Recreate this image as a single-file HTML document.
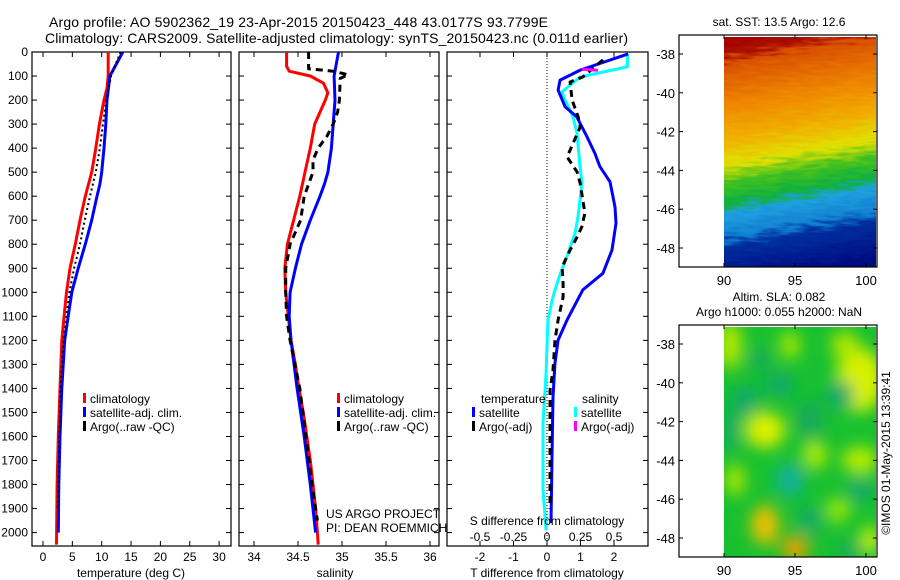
<!DOCTYPE html>
<html><head><meta charset="utf-8"><style>
html,body{margin:0;padding:0;background:#fff;}
svg{display:block;font-family:"Liberation Sans",sans-serif;}
</style></head><body>
<svg id="fig" width="900" height="580" viewBox="0 0 900 580" xmlns="http://www.w3.org/2000/svg">
<defs>
<linearGradient id="sstGrad" x1="0" y1="0" x2="0.12" y2="1">
<stop offset="0" stop-color="#a00000"/><stop offset="0.15" stop-color="#a80800"/>
<stop offset="0.19" stop-color="#d85000"/><stop offset="0.35" stop-color="#f08800"/>
<stop offset="0.47" stop-color="#f0b000"/><stop offset="0.56" stop-color="#e0e000"/>
<stop offset="0.63" stop-color="#40c020"/><stop offset="0.70" stop-color="#10b040"/>
<stop offset="0.74" stop-color="#20a0e0"/><stop offset="0.82" stop-color="#1080d0"/>
<stop offset="0.86" stop-color="#0030a0"/><stop offset="1" stop-color="#000a80"/>
</linearGradient>
<filter id="rough" x="-10%" y="-10%" width="120%" height="120%"><feTurbulence type="fractalNoise" baseFrequency="0.05 0.3" numOctaves="2" seed="3"/><feDisplacementMap in="SourceGraphic" scale="18"/></filter>
<filter id="blur"><feGaussianBlur stdDeviation="8"/></filter>
<clipPath id="m1c"><rect x="724" y="37" width="152" height="230"/></clipPath>
<clipPath id="m2c"><rect x="724" y="327" width="152" height="230"/></clipPath>
</defs>
<g id="root"></g>
</svg>
<script>
// ---------- data ----------
const depthTicks = [0,100,200,300,400,500,600,700,800,900,1000,1100,1200,1300,1400,1500,1600,1700,1800,1900,2000];
const tempTicks = [0,5,10,15,20,25,30];
const salTicks = [34,34.5,35,35.5,36];
const salTickLabels = ["34","34.5","35","35.5","36"];
const tdiffTicks = [-2,-1,0,1,2];
const sdiffTicks = [-0.5,-0.25,0,0.25,0.5];
const sdiffTickLabels = ["-0.5","-0.25","0","0.25","0.5"];
const latTicks = [-38,-40,-42,-44,-46,-48];
const lonTicks = [90,95,100];

const tClimDepth = [0,100,150,200,300,400,500,600,700,800,900,1000,1100,1200,1400,1600,1800,2050];
const tClim      = [11.1,11.1,10.9,10.4,9.6,9.0,8.3,7.2,6.3,5.5,4.6,4.0,3.6,3.2,2.9,2.6,2.4,2.3];
const tSatDepth  = [0,100,200,300,400,500,550,600,700,800,900,1000,1100,1200,1400,1600,1800,2000];
const tSat       = [13.6,11.4,10.9,10.7,10.4,10.0,9.7,9.2,8.3,7.2,6.0,4.9,4.3,3.7,3.2,2.9,2.7,2.6];
const tArgoDepth = [0,100,200,300,400,500,600,700,800,900,1000,1200,1400,1600,1800,1900];
const tArgo      = [13.2,11.6,10.8,10.2,9.7,9.0,8.0,7.1,6.3,5.3,4.5,3.5,3.0,2.8,2.6,2.5];

const sClimDepth = [0,60,80,100,130,170,200,250,300,400,500,600,700,800,900,1000,1100,1200,1300,1400,1500,1600,1700,1800,1900,2000,2050];
const sClim      = [34.37,34.37,34.40,34.64,34.79,34.84,34.81,34.75,34.69,34.64,34.58,34.52,34.45,34.38,34.35,34.36,34.39,34.42,34.47,34.51,34.56,34.60,34.64,34.67,34.70,34.72,34.73];
const sSatDepth  = [0,100,200,300,400,500,550,600,700,800,900,1000,1100,1200,1400,1600,1800,2000];
const sSat       = [34.96,34.91,34.92,34.90,34.88,34.84,34.80,34.75,34.64,34.54,34.47,34.41,34.40,34.42,34.49,34.57,34.64,34.70];
const sArgoDepth = [0,70,80,95,110,200,250,300,350,400,450,500,550,600,700,800,900,1000,1100,1200,1400,1600,1800,1950];
const sArgo      = [34.62,34.62,34.90,35.07,34.98,34.97,34.95,34.90,34.83,34.73,34.67,34.67,34.62,34.57,34.53,34.41,34.36,34.36,34.37,34.41,34.52,34.59,34.66,34.72];

const dTSatDepth = [8,75,117,158,228,270,352,422,477,540,645,713,824,921,990,1115,1199,1294,1436,1685,1960];
const dTSat      = [2.42,1.0,0.39,0.33,0.54,0.89,1.19,1.43,1.58,1.88,2.03,2.06,1.94,1.67,1.07,0.6,0.33,0.24,0.18,0.15,0.12];
const dSSatDepth = [8,62,104,166,200,270,338,477,547,686,755,838,950,1019,1115,1336,1544,1823,1990];
const dSSat      = [0.60,0.60,0.246,0.112,0.134,0.194,0.224,0.246,0.261,0.231,0.209,0.157,0.082,0.045,0.007,-0.007,-0.03,-0.03,-0.007];
const dTArgoDepth= [33,104,125,200,270,312,380,437,499,547,616,671,728,770,824,895,962,1020,1115,1199,1325,1408,1685,1900];
const dTArgo     = [1.67,1.07,0.69,0.75,0.93,0.99,0.78,0.6,0.9,0.99,1.07,1.13,1.04,0.9,0.69,0.45,0.48,0.48,0.33,0.24,0.18,0.09,0.09,0.09];
const dSArgoDepth= [72,76];
const dSArgo     = [0.26,0.38];

// ---------- helpers ----------
const NS="http://www.w3.org/2000/svg";
const root=document.getElementById('root');
function el(tag,attrs,parent){const e=document.createElementNS(NS,tag);for(const k in attrs)e.setAttribute(k,attrs[k]);(parent||root).appendChild(e);return e;}
function txt(s,x,y,anchor,size,parent){const t=el('text',{x:x,y:y,'text-anchor':anchor||'start','font-size':size||12,fill:'#000'},parent);t.textContent=s;return t;}
const yDepth=d=>52+d*0.2403;
const P1={x0:32,x1:231}, P2={x0:239,x1:439}, P3={x0:447,x1:648};
const xT=v=>43+v*5.87;
const xS=v=>254+(v-34)*88;
const xDT=v=>547+v*33.5;
const xDS=v=>547+v*134;
const yTop=52,yBot=546;

function box(P,name){
  const r=el('rect',{x:P.x0,y:yTop,width:P.x1-P.x0,height:yBot-yTop,fill:'none',stroke:'#000','stroke-width':1.2});
  
  
  depthTicks.forEach(d=>{const y=yDepth(d);
    el('line',{x1:P.x0,y1:y,x2:P.x0+5,y2:y,stroke:'#000'});
    el('line',{x1:P.x1,y1:y,x2:P.x1-5,y2:y,stroke:'#000'});});
}
function xTicks(P,vals,fx,labels,name){
  const g=el('g',{});
  
  
  vals.forEach((v,i)=>{const x=fx(v);
    el('line',{x1:x,y1:yBot,x2:x,y2:yBot-5,stroke:'#000'},g);
    el('line',{x1:x,y1:yTop,x2:x,y2:yTop+5,stroke:'#000'},g);
    txt(labels?labels[i]:String(v),x,561,'middle',12,g);});
}
function line(ds,vs,fx,color,w,dash,name){
  const pts=ds.map((d,i)=>fx(vs[i]).toFixed(1)+','+yDepth(d).toFixed(1)).join(' ');
  const p=el('polyline',{points:pts,fill:'none',stroke:color,'stroke-width':w,'stroke-linejoin':'round'});
  if(dash)p.setAttribute('stroke-dasharray',dash);
  
  
  return p;
}
function legItem(x,y,color,label,name){
  const g=el('g',{});
  
  
  el('rect',{x:x,y:y-10,width:3,height:10,fill:color},g);
  txt(label,x+7,y,'start',12,g);
}

// titles
let t=txt("Argo profile: AO 5902362_19 23-Apr-2015 20150423_448 43.0177S 93.7799E",49,27,'start',14);
t.setAttribute('textLength','499');


t=txt("Climatology: CARS2009. Satellite-adjusted climatology: synTS_20150423.nc (0.011d earlier)",45,43,'start',14);
t.setAttribute('textLength','583');



// depth labels
depthTicks.forEach(d=>{const l=txt(String(d),28,yDepth(d)+4,'end',12);
  
  });

// panel 1
box(P1,'temperature-panel');
xTicks(P1,tempTicks,xT,null,'temperature-x-ticks');
t=txt("temperature (deg C)",131,577,'middle',12);


line(tClimDepth,tClim,xT,'#ff0000',3,null,'temperature-climatology-line');
line(tSatDepth,tSat,xT,'#0000ff',3,null,'temperature-satellite-line');
line(tArgoDepth,tArgo,xT,'#000',2,'2 3','temperature-argo-line');
legItem(83,403,'#ff0000','climatology','legend-climatology');
legItem(83,417,'#0000ff','satellite-adj. clim.','legend-satellite-adj');
legItem(83,431,'#000','Argo(..raw -QC)','legend-argo');

// panel 2
box(P2,'salinity-panel');
xTicks(P2,salTicks,xS,salTickLabels,'salinity-x-ticks');
t=txt("salinity",335,577,'middle',12);


line(sClimDepth,sClim,xS,'#ff0000',3,null,'salinity-climatology-line');
line(sSatDepth,sSat,xS,'#0000ff',3,null,'salinity-satellite-line');
line(sArgoDepth,sArgo,xS,'#000',3,'7 5','salinity-argo-line');
legItem(337,403,'#ff0000','climatology','legend-climatology-2');
legItem(337,417,'#0000ff','satellite-adj. clim.','legend-satellite-adj-2');
legItem(337,431,'#000','Argo(..raw -QC)','legend-argo-2');
t=txt("US ARGO PROJECT",326,518,'start',12);


t=txt("PI: DEAN ROEMMICH",326,532,'start',12);



// panel 3
box(P3,'difference-panel');
xTicks(P3,tdiffTicks,xDT,null,'tdiff-x-ticks');
el('line',{x1:xDT(0),y1:yTop,x2:xDT(0),y2:yBot,stroke:'#000','stroke-dasharray':'1 2'});
t=txt("T difference from climatology",547,577,'middle',12);


line(dSSatDepth,dSSat,xDS,'#00ffff',3,null,'sdiff-satellite-line');
line(dTSatDepth,dTSat,xDT,'#0000ff',3,null,'tdiff-satellite-line');
line(dTArgoDepth,dTArgo,xDT,'#000',3,'7 5','tdiff-argo-line');
line(dSArgoDepth,dSArgo,xDS,'#ff00ff',3,null,'sdiff-argo-line');
t=txt("S difference from climatology",547,525,'middle',12);


sdiffTicks.forEach((v,i)=>{const l=txt(sdiffTickLabels[i],xDS(v),541,'middle',12);
  
  });
t=txt("temperature",481,403,'start',12);


t=txt("salinity",582,403,'start',12);


legItem(472,417,'#0000ff','satellite','legend-t-satellite');
legItem(472,431,'#000','Argo(-adj)','legend-t-argo');
legItem(574,417,'#00ffff','satellite','legend-s-satellite');
legItem(574,431,'#ff00ff','Argo(-adj)','legend-s-argo');

// maps
const xLon=v=>724+(v-90)*14.2;
function mapAxes(y0,name){
  const g=el('g',{});
  
  
  el('rect',{x:679,y:y0,width:198,height:232,fill:'none',stroke:'#000','stroke-width':1.2},g);
  const yLat=v=>y0+19+(-38-v)*19.4;
  latTicks.forEach(v=>{const y=yLat(v);
    el('line',{x1:679,y1:y,x2:683,y2:y,stroke:'#000'},g);
    el('line',{x1:877,y1:y,x2:873,y2:y,stroke:'#000'},g);
    txt(String(v),675,y+5,'end',13,g);});
  lonTicks.forEach(v=>{const x=xLon(v);
    el('line',{x1:x,y1:y0,x2:x,y2:y0+4,stroke:'#000'},g);
    el('line',{x1:x,y1:y0+232,x2:x,y2:y0+228,stroke:'#000'},g);
    txt(String(v),x,y0+250,'middle',13,g);});
  return g;
}
// map 1 SST
const m1=el('g',{'clip-path':'url(#m1c)'});


el('rect',{x:724,y:37,width:152,height:30,fill:'#a00000'},m1);
el('rect',{x:724,y:237,width:152,height:30,fill:'#000a80'},m1);
el('rect',{x:705,y:15,width:190,height:270,fill:'url(#sstGrad)',filter:'url(#rough)'},m1);
mapAxes(35,'sst-map-axes');
t=txt("sat. SST: 13.5 Argo: 12.6",779,26,'middle',12);



// map 2 SLA
const m2=el('g',{'clip-path':'url(#m2c)'});


el('rect',{x:724,y:327,width:152,height:230,fill:'#18c030'},m2);
const bl=el('g',{filter:'url(#blur)'},m2);
[[730,345,12,24,'#b8ea00'],[790,345,10,14,'#a8e800'],[860,380,24,32,'#d8f000'],[845,345,14,14,'#b0e800'],
 [765,430,20,18,'#e0f000'],[815,455,12,14,'#b8ec00'],[860,460,18,14,'#b8ec00'],[735,480,10,16,'#b0e800'],
 [765,525,14,20,'#f0c000'],[795,548,14,12,'#f0a000'],[870,540,10,14,'#c8f000'],[838,510,12,12,'#a0e800'],
 [745,400,14,14,'#10a870'],[790,480,14,16,'#10b0a0'],[840,395,14,14,'#10a870'],[780,385,14,12,'#10a870'],
 [860,490,12,12,'#10a870'],[730,430,8,20,'#10a870'],[810,520,12,12,'#10a870'],[810,420,12,20,'#12a860'],
 [760,360,10,10,'#12a860'],[850,550,14,8,'#12a860']].forEach(b=>{
  el('ellipse',{cx:b[0],cy:b[1],rx:b[2],ry:b[3],fill:b[4]},bl);});
mapAxes(325,'sla-map-axes');
t=txt("Altim. SLA: 0.082",779,301,'middle',12);


t=txt("Argo h1000: 0.055 h2000: NaN",779,316,'middle',12);


t=txt("©IMOS 01-May-2015 13:39:41",0,0,'middle',12);
t.setAttribute('transform','translate(890,453) rotate(-90)');


</script>
</body></html>
